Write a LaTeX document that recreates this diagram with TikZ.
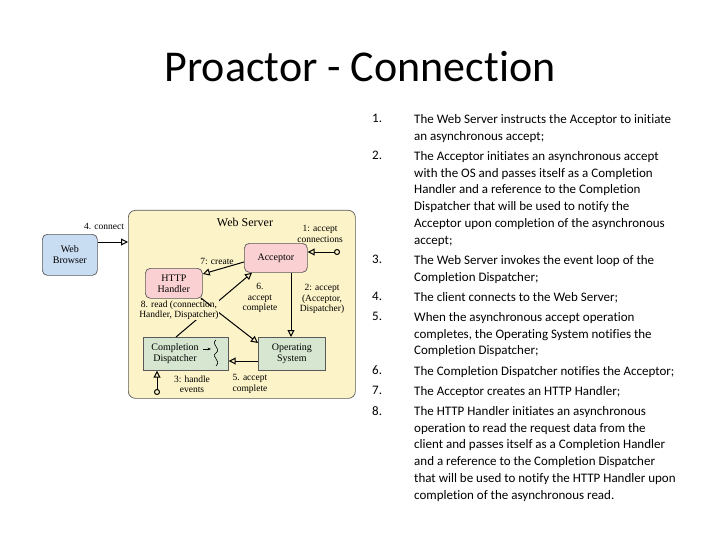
\documentclass[tikz,border=0pt]{standalone}
\usepackage{fontspec}
\setmainfont[Ligatures=NoCommon]{Carlito}
\newfontfamily\dfont{Liberation Serif}
\usetikzlibrary{arrows.meta}
\definecolor{wsfill}{RGB}{253,243,200}
\definecolor{brfill}{RGB}{200,220,242}
\definecolor{pkfill}{RGB}{250,208,210}
\definecolor{grfill}{RGB}{214,230,208}
\begin{document}
\begin{tikzpicture}[x=1pt,y=-1pt,
  box/.style={draw=gray!70!black,rounded corners=5pt,line width=0.7pt,font=\dfont\fontsize{10}{11}\selectfont,align=center,inner sep=0pt},
  sqbox/.style={draw=gray!70!black,line width=0.7pt,inner sep=0pt},
  lbl/.style={font=\dfont\fontsize{9.5}{10.5}\selectfont,align=center,inner sep=0.5pt},
  conn/.style={line width=1pt,-{Triangle[open,length=7pt,width=7pt]}},
  cconn/.style={line width=1pt,{Circle[open,length=6pt]}-{Triangle[open,length=7pt,width=7pt]}},
  num/.style={anchor=north west,inner sep=0pt,align=left,font=\fontsize{13}{16.8}\selectfont},
  item/.style={anchor=north west,inner sep=0pt,align=left,font=\fontsize{13}{16.8}\selectfont}]
\useasboundingbox (0,0) rectangle (720,540);
\node[anchor=base,inner sep=0pt,font=\fontsize{44}{52}\selectfont] (title) at (360,82) {Proactor - Connection};
% diagram
\node[box,fill=wsfill,rounded corners=7pt,minimum width=227pt,minimum height=188pt,anchor=north west] (ws) at (128,210) {};
\node[lbl,font=\dfont\fontsize{12}{13}\selectfont] (wst) at (245,222) {Web Server};
\node[box,fill=brfill,minimum width=55pt,minimum height=41pt,anchor=north west] (br) at (42,234) {Web\\Browser};
\node[box,fill=pkfill,minimum width=63pt,minimum height=29pt,anchor=north west] (acc) at (244,243) {Acceptor};
\node[box,fill=pkfill,minimum width=57pt,minimum height=30pt,anchor=north west] (http) at (145,268) {HTTP\\Handler};
\node[sqbox,fill=grfill,minimum width=85pt,minimum height=33pt,anchor=north west] (cd) at (143,337) {};
\node[lbl,font=\dfont\fontsize{10}{11}\selectfont] (cdt) at (175,353.5) {Completion\\Dispatcher};
\node[sqbox,fill=grfill,minimum width=67pt,minimum height=33pt,anchor=north west,font=\dfont\fontsize{10}{11}\selectfont,align=center] (os) at (258,337) {Operating\\System};
\coordinate (sqa) at (203,349);
\coordinate (sqb) at (211,349);
\draw[line width=0.8pt,-{Stealth[length=3.5pt]}] (sqa) -- (sqb);
\draw[line width=0.6pt] (216,340) .. controls (210,345) and (222,348) .. (216,353) .. controls (210,357) and (222,360) .. (216,366);
% connectors
\coordinate (wsin) at (128,242);
\draw[conn] (br.east |- wsin) -- (wsin);
\node[lbl] (l4) at (104,226) {4. connect};
\coordinate (c1) at (340,252);
\draw[cconn] (c1) -- (acc.east |- c1);
\node[lbl] (l1) at (320,234) {1: accept\\connections};
\draw[conn] (acc.west |- 0,262) -- (http.north east |- 0,274);
\node[lbl] (l7) at (217,261) {7: create};
\draw[conn] (acc.south -| 291,0) -- (os.north -| 291,0);
\node[lbl] (l2) at (322,299) {2: accept\\(Acceptor,\\Dispatcher)};
\draw[conn] (cd.north -| 176,0) -- (acc.south -| 252,0);
\node[lbl] (l6) at (260,298) {6.\\accept\\complete};
\draw[conn] (http.south east -| 201,0) -- (os.west |- 0,343);
\node[lbl,fill=wsfill] (l8) at (179,310) {8. read (connection,\\Handler, Dispatcher)};
\draw[line width=1pt] (201,298) -- (211,306);
\draw[conn] (os.west |- 0,361) -- (cd.east |- 0,361);
\node[lbl] (l5) at (250,384) {5. accept\\complete};
\coordinate (c3) at (157,395);
\draw[cconn] (c3) -- (cd.south -| c3);
\node[lbl] (l3) at (192,384) {3: handle\\events};
% list
\foreach \n/\y in {1/114,2/151,3/255,4/292,5/312,6/366,7/386,8/406}{\node[num] (n\n) at (372,\y) {\n.};}
\node[item] (t1) at (414,114) {The Web Server instructs the Acceptor to initiate\\an asynchronous accept;};
\node[item] (t2) at (414,151) {The Acceptor initiates an asynchronous accept\\with the OS and passes itself as a Completion\\Handler and a reference to the Completion\\Dispatcher that will be used to notify the\\Acceptor upon completion of the asynchronous\\accept;};
\node[item] (t3) at (414,255) {The Web Server invokes the event loop of the\\Completion Dispatcher;};
\node[item] (t4) at (414,292) {The client connects to the Web Server;};
\node[item] (t5) at (414,312) {When the asynchronous accept operation\\completes, the Operating System notifies the\\Completion Dispatcher;};
\node[item] (t6) at (414,366) {The Completion Dispatcher notifies the Acceptor;};
\node[item] (t7) at (414,386) {The Acceptor creates an HTTP Handler;};
\node[item] (t8) at (414,406) {The HTTP Handler initiates an asynchronous\\operation to read the request data from the\\client and passes itself as a Completion Handler\\and a reference to the Completion Dispatcher\\that will be used to notify the HTTP Handler upon\\completion of the asynchronous read.};
\end{tikzpicture}
\end{document}
